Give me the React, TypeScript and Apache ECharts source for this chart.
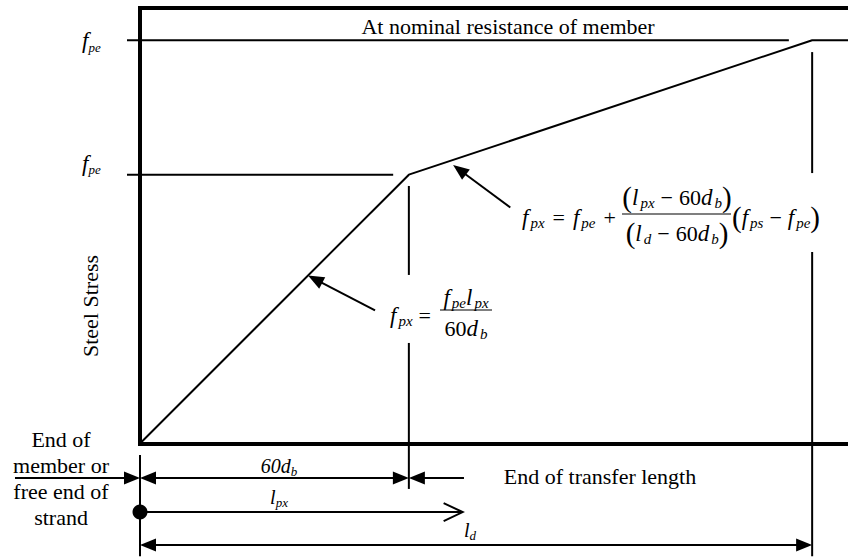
import React, { useEffect, useRef } from "react";
import * as echarts from "echarts";

// Distance along the strand, in multiples of the strand diameter d_b
const DISTANCE = [0, 60, 150, 158];
// Steel stress at those distances (f_pe = 100, f_ps = 150)
const STRESS = [0, 100, 150, 150];

const F_PE = 100;
const F_PS = 150;
const TRANSFER_LENGTH = 60; // 60 d_b
const DEVELOPMENT_LENGTH = 150; // l_d
const L_PX = 72; // an arbitrary section at l_px

// ---- layout (pixels / axis units used only for placing annotations) ----
const SERIF = "Liberation Serif, Times New Roman, serif";
const X_MAX = 158;
const Y_MAX = 162;
const ROW_TRANSFER = -12.8;
const ROW_LPX = -25.5;
const ROW_LD = -37.8;

// Linear stress along the curve, used to place the formula pointers on it
function stressAt(x: number): number {
  for (let i = 1; i < DISTANCE.length; i++) {
    if (x <= DISTANCE[i]) {
      const t = (x - DISTANCE[i - 1]) / (DISTANCE[i] - DISTANCE[i - 1]);
      return STRESS[i - 1] + t * (STRESS[i] - STRESS[i - 1]);
    }
  }
  return STRESS[STRESS.length - 1];
}

// [x1, y1, x2, y2, head at start, head at end]; head: 0 none, 1 filled, 2 open
const SEGMENTS: number[][] = [
  [-2.9, F_PE, 56.5, F_PE, 0, 0],
  [-2.9, F_PS, 144.8, F_PS, 0, 0],
  [TRANSFER_LENGTH, 95.8, TRANSFER_LENGTH, 62.7, 0, 0],
  [TRANSFER_LENGTH, 37.4, TRANSFER_LENGTH, -16.9, 0, 0],
  [DEVELOPMENT_LENGTH, 145.6, DEVELOPMENT_LENGTH, 100.6, 0, 0],
  [DEVELOPMENT_LENGTH, 71.2, DEVELOPMENT_LENGTH, -41.9, 0, 0],
  [0, -4.3, 0, -41.9, 0, 0],
  [-27.9, ROW_TRANSFER, 0, ROW_TRANSFER, 0, 1],
  [0, ROW_TRANSFER, TRANSFER_LENGTH, ROW_TRANSFER, 1, 1],
  [72.3, ROW_TRANSFER, TRANSFER_LENGTH, ROW_TRANSFER, 0, 1],
  [0, ROW_LPX, L_PX, ROW_LPX, 0, 2],
  [0, ROW_LD, DEVELOPMENT_LENGTH, ROW_LD, 1, 1],
];

// [x on the curve, tail offset dx (px), tail offset dy (px), gap before curve (px)]
const POINTERS: number[][] = [
  [37.5, 67, 35, 0],
  [68.8, 62, 46, 6],
];

type Pt = number[];

function head(tip: Pt, from: Pt, kind: number) {
  const dx = tip[0] - from[0];
  const dy = tip[1] - from[1];
  const len = Math.hypot(dx, dy) || 1;
  const ux = dx / len;
  const uy = dy / len;
  const L = kind === 2 ? 19 : 16;
  const W = kind === 2 ? 9 : 6.5;
  const bx = tip[0] - ux * L;
  const by = tip[1] - uy * L;
  const p1 = [bx - uy * W, by + ux * W];
  const p2 = [bx + uy * W, by - ux * W];
  if (kind === 1) {
    return { type: "polygon", shape: { points: [tip, p1, p2] }, style: { fill: "#000" } };
  }
  return {
    type: "polyline",
    shape: { points: [p1, tip, p2] },
    style: { stroke: "#000", lineWidth: 2, fill: null },
  };
}

function arrow(a: Pt, b: Pt, startHead: number, endHead: number) {
  const dx = b[0] - a[0];
  const dy = b[1] - a[1];
  const len = Math.hypot(dx, dy) || 1;
  const ux = dx / len;
  const uy = dy / len;
  const s = startHead === 1 ? 12 : 0;
  const e = endHead === 1 ? 12 : 0;
  const children: any[] = [
    {
      type: "line",
      shape: { x1: a[0] + ux * s, y1: a[1] + uy * s, x2: b[0] - ux * e, y2: b[1] - uy * e },
      style: { stroke: "#000", lineWidth: 2 },
    },
  ];
  if (startHead) children.push(head(a, b, startHead));
  if (endHead) children.push(head(b, a, endHead));
  return { type: "group", children };
}

const rich = {
  // italic variable
  v: { fontFamily: SERIF, fontStyle: "italic", fontSize: 23, lineHeight: 26, fill: "#000" },
  // upright numbers
  n: { fontFamily: SERIF, fontSize: 22, lineHeight: 26, fill: "#000" },
  // operators with math spacing
  o: { fontFamily: SERIF, fontSize: 22, lineHeight: 26, padding: [0, 6, 0, 6], fill: "#000" },
  // wider operator spacing on the main relation
  q: { fontFamily: SERIF, fontSize: 22, lineHeight: 26, padding: [0, 8, 0, 8], fill: "#000" },
  // subscript
  s: {
    fontFamily: SERIF, fontStyle: "italic", fontSize: 15, lineHeight: 12,
    verticalAlign: "bottom", padding: [0, 0, 0, 2], fill: "#000",
  },
  // tall parentheses
  p: { fontFamily: SERIF, fontSize: 29, lineHeight: 26, fill: "#000" },
  // dimension labels
  lv: { fontFamily: SERIF, fontStyle: "italic", fontSize: 20, lineHeight: 24, fill: "#000" },
  ls: { fontFamily: SERIF, fontStyle: "italic", fontSize: 13, lineHeight: 11, verticalAlign: "bottom", fill: "#000" },
};

function txt(text: string, x: number, y: number, align = "center", extra: any = {}) {
  return {
    type: "text",
    x,
    y,
    z: 10,
    style: {
      text,
      rich,
      align,
      verticalAlign: "middle",
      fill: "#000",
      fontFamily: SERIF,
      fontSize: 22,
      ...extra,
    },
  };
}

function bar(x1: number, x2: number, y: number) {
  return {
    type: "line",
    z: 10,
    shape: { x1, y1: y, x2, y2: y },
    style: { stroke: "#000", lineWidth: 1.2 },
  };
}

export default function App() {
  const ref = useRef<HTMLDivElement>(null);

  useEffect(() => {
    if (!ref.current) return;
    const chart = echarts.init(ref.current, null, { renderer: "svg" });

    const frameLine = { show: true, onZero: false, lineStyle: { color: "#000", width: 4, cap: "square" } };
    const hidden = { axisTick: { show: false }, axisLabel: { show: false }, splitLine: { show: false } };

    chart.setOption({
      animation: false,
      backgroundColor: "#fff",
      textStyle: { fontFamily: SERIF },
      grid: { left: 140, right: 0, top: 8, bottom: 115.5 },
      xAxis: [
        { type: "value", min: 0, max: X_MAX, axisLine: frameLine, ...hidden },
        { type: "value", position: "top", min: 0, max: X_MAX, axisLine: frameLine, ...hidden },
      ],
      yAxis: { type: "value", min: 0, max: Y_MAX, axisLine: frameLine, ...hidden },
      series: [
        {
          type: "line",
          name: "Steel stress",
          data: DISTANCE.map((x, i) => [x, STRESS[i]]),
          symbol: "none",
          lineStyle: { color: "#000", width: 2 },
          clip: false,
          z: 3,
        },
        {
          type: "custom",
          name: "Dimensions",
          data: SEGMENTS,
          clip: false,
          silent: true,
          renderItem: (_p: any, api: any) => {
            const a = api.coord([api.value(0), api.value(1)]);
            const b = api.coord([api.value(2), api.value(3)]);
            return arrow(a, b, api.value(4), api.value(5));
          },
        },
        {
          type: "custom",
          name: "Pointers",
          data: POINTERS,
          clip: false,
          silent: true,
          renderItem: (_p: any, api: any) => {
            const x = api.value(0);
            const p = api.coord([x, stressAt(x)]);
            const tail = [p[0] + api.value(1), p[1] + api.value(2)];
            const dx = p[0] - tail[0];
            const dy = p[1] - tail[1];
            const len = Math.hypot(dx, dy) || 1;
            const gap = api.value(3);
            const tip = [p[0] - (dx / len) * gap, p[1] - (dy / len) * gap];
            return arrow(tail, tip, 0, 1);
          },
        },
        {
          type: "scatter",
          name: "Free end",
          data: [[0, ROW_LPX]],
          symbolSize: 15,
          itemStyle: { color: "#000", opacity: 1 },
          clip: false,
        },
      ],
      graphic: [
        txt("At nominal resistance of member", 508, 26),
        txt("{v|f}{ls|pe}", 82, 40.5, "left"),
        txt("{v|f}{ls|pe}", 82, 163, "left"),
        { ...txt("Steel Stress", 90, 306), rotation: Math.PI / 2 },
        txt("End of\nmember or\nfree end of\nstrand", 61, 478, "center", { lineHeight: 26 }),
        txt("End of transfer length", 600, 476),
        txt("{lv|60d}{ls|b}", 279, 466),
        txt("{lv|l}{ls|px}", 279, 497),
        txt("{lv|l}{ls|d}", 470, 530),
        // f_px = f_pe l_px / 60 d_b
        txt("{v|f}{s|px}{o|=}", 390, 315, "left"),
        txt("{v|f}{s|pe}{v|l}{s|px}", 466, 297),
        bar(440, 492, 310),
        txt("{n|60}{v|d}{s|b}", 466, 328),
        // f_px = f_pe + (l_px - 60 d_b)/(l_d - 60 d_b) (f_ps - f_pe)
        txt("{v|f}{s|px}{q|=}{v|f}{s|pe}{q|+}", 522, 217, "left"),
        txt("{p|(}{v|l}{s|px}{o|\u2212}{n|60}{v|d}{s|b}{p|)}", 677, 197),
        bar(622, 731, 214),
        txt("{p|(}{v|l}{s|d}{o|\u2212}{n|60}{v|d}{s|b}{p|)}", 677, 233),
        txt("{p|(}{v|f}{s|ps}{o|\u2212}{v|f}{s|pe}{p|)}", 732, 217, "left"),
      ],
    });

    return () => chart.dispose();
  }, []);

  return (
    <div
      ref={ref}
      style={{ position: "absolute", left: 0, top: 0, width: 848, height: 559, background: "#fff" }}
    />
  );
}
